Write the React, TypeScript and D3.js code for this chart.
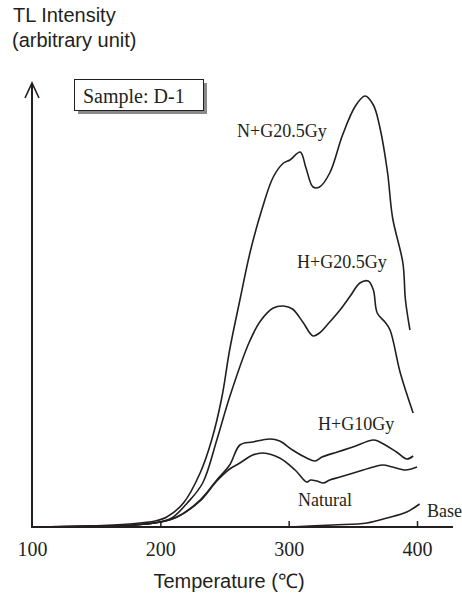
import React, { useEffect, useRef } from 'react'
import * as d3 from 'd3';

// temperature (°C) / TL intensity (arbitrary unit)
const nG205T = [100, 145, 176, 196, 205, 218, 231, 240, 248, 254, 262, 270, 279, 288, 296, 301, 309, 313.5, 319, 324, 332, 342, 352, 359.5, 366, 371, 377, 381, 389, 391, 394.5];
const nG205I = [0, 1, 3, 6, 10, 24, 54, 87, 130, 177, 227, 275, 317, 350, 364, 367, 375, 359, 340, 340, 354, 392, 421, 431, 422, 400, 355, 309, 264, 227, 197];

const hG205T = [100, 150, 180, 200, 209, 221, 233, 244, 254, 269, 278, 288, 296, 303, 311, 319, 324, 332, 340, 348, 355.5, 362, 366, 369, 375, 379, 387, 397];
const hG205I = [0, 1, 2, 5, 9, 24, 44, 87, 130, 184, 206, 219, 221, 218, 205, 191, 194, 205, 217, 231, 244, 246, 237, 214, 205, 197, 154, 114];

const hG10T = [100, 150, 180, 200, 213, 231, 244, 254, 262, 272, 285.5, 293, 303, 314, 320.5, 326, 338, 350, 366, 371, 384, 392, 397];
const hG10I = [0, 1, 2, 5, 10, 27, 47, 62, 82, 85, 88, 86, 77, 69, 66, 70, 75, 80, 87, 85, 75, 68, 71];

const naturalT = [100, 150, 180, 200, 213, 231, 244, 254, 262, 272, 280, 293, 305, 314, 317, 322, 327, 332, 340, 353, 366, 373.5, 381, 391, 400];
const naturalI = [0, 1, 2, 5, 10, 26, 46, 58, 64, 72, 74, 69, 57, 45, 47, 46, 44, 47, 50, 55, 60, 62, 60, 57, 60];

const baseT = [301, 334.5, 361, 376.6, 392, 402];
const baseI = [0, 2, 4, 9, 15, 23];

const xTicks = [100, 200, 300, 400];

const series = [
  { name: 'N+G20.5Gy', t: nG205T, v: nG205I, lx: 237, ly: 137 },
  { name: 'H+G20.5Gy', t: hG205T, v: hG205I, lx: 297, ly: 268 },
  { name: 'H+G10Gy', t: hG10T, v: hG10I, lx: 318, ly: 430 },
  { name: 'Natural', t: naturalT, v: naturalI, lx: 298, ly: 506 },
  { name: 'Base', t: baseT, v: baseI, lx: 427, ly: 517 },
];

const serif = '"Liberation Serif", "Times New Roman", serif';
const sans = '"Liberation Sans", Arial, sans-serif';
const ink = '#231f20';

export default function App() {
  const svgRef = useRef<SVGSVGElement>(null);

  useEffect(() => {
    const width = 462;
    const height = 593;
    const svg = d3.select(svgRef.current);
    svg.selectAll('*').remove();
    svg.attr('width', width).attr('height', height);

    const x = d3.scaleLinear().domain([100, 400]).range([32, 417]);
    const y = d3.scaleLinear().domain([0, 460]).range([527, 67]);

    // y title
    svg.append('text').attr('x', 13).attr('y', 22)
      .style('font-family', sans).style('font-size', '20px').attr('fill', ink)
      .text('TL Intensity');
    svg.append('text').attr('x', 12).attr('y', 47)
      .style('font-family', sans).style('font-size', '20px').attr('fill', ink)
      .text('(arbitrary unit)');

    // y axis with arrow
    svg.append('line').attr('x1', 32).attr('x2', 32).attr('y1', 84).attr('y2', 528)
      .attr('stroke', ink).attr('stroke-width', 2);
    svg.append('path').attr('d', 'M25,98 L32,83 L39,98')
      .attr('fill', 'none').attr('stroke', ink).attr('stroke-width', 1.6);

    // x axis
    svg.append('line').attr('x1', 31).attr('x2', 453).attr('y1', 527).attr('y2', 527)
      .attr('stroke', ink).attr('stroke-width', 2);
    const ax = svg.append('g')
      .attr('transform', 'translate(0,527)')
      .call(d3.axisBottom(x).tickValues(xTicks).tickSizeInner(-6).tickSizeOuter(0).tickPadding(15));
    ax.select('.domain').remove();
    ax.selectAll('line').attr('stroke', ink).attr('stroke-width', 1.5)
      .filter((d: any) => d === 100).remove();
    ax.selectAll('text').style('font-family', serif).style('font-size', '20px').attr('fill', ink);

    svg.append('text').attr('x', 229).attr('y', 588).attr('text-anchor', 'middle')
      .style('font-family', sans).style('font-size', '20px').attr('fill', ink)
      .text('Temperature (℃)');

    // sample box with shadow
    svg.append('rect').attr('x', 78).attr('y', 83).attr('width', 129).attr('height', 31)
      .attr('fill', '#8a8a8a');
    svg.append('rect').attr('x', 74.5).attr('y', 79.5).attr('width', 129).attr('height', 31)
      .attr('fill', '#fff').attr('stroke', ink).attr('stroke-width', 1);
    svg.append('text').attr('x', 83).attr('y', 103)
      .style('font-family', serif).style('font-size', '20px').attr('fill', ink)
      .text('Sample: D-1');

    const line = d3.line<[number, number]>()
      .x(d => x(d[0]))
      .y(d => y(d[1]))
      .curve(d3.curveCatmullRom.alpha(0.5));

    series.forEach(s => {
      const pts = s.t.map((t, i) => [t, s.v[i]] as [number, number]);
      svg.append('path')
        .datum(pts)
        .attr('fill', 'none')
        .attr('stroke', ink)
        .attr('stroke-width', 1.6)
        .attr('d', line);
      svg.append('text').attr('x', s.lx).attr('y', s.ly)
        .style('font-family', serif).style('font-size', '18px').attr('fill', ink)
        .text(s.name);
    });
  }, []);

  return (
    <div style={{ position: 'absolute', left: 0, top: 0, background: '#fff' }}>
      <svg ref={svgRef}></svg>
    </div>
  )
}
